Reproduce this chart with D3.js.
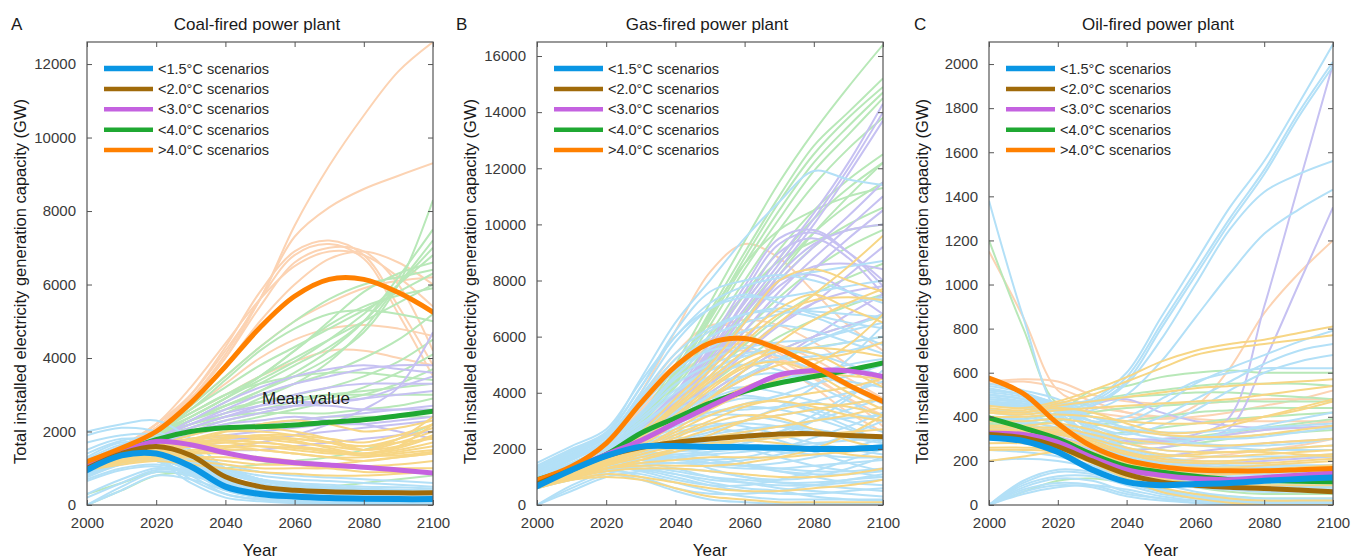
<!DOCTYPE html>
<html>
<head>
<meta charset="utf-8">
<script src="https://cdn.jsdelivr.net/npm/d3@7"></script>
<style>
  body { margin: 0; background: #fff; }
  svg { display: block; }
  text { font-family: Arial, "Liberation Sans", Helvetica, sans-serif; }
</style>
</head>
<body>
<svg id="chart" width="1364" height="559"></svg>
<script>
// ---- shared ----
const years = [2000, 2010, 2020, 2030, 2040, 2050, 2060, 2070, 2080, 2090, 2100];
const xTicks = [2000, 2020, 2040, 2060, 2080, 2100];
const groupLabels = ["<1.5\u00B0C scenarios", "<2.0\u00B0C scenarios", "<3.0\u00B0C scenarios", "<4.0\u00B0C scenarios", ">4.0\u00B0C scenarios"];

// ---- Coal-fired: group means (order: <1.5, <2.0, <3.0, <4.0, >4.0) ----
const coalMeans = [
  [950, 1350, 1400, 1050, 500, 300, 230, 190, 170, 160, 160],
  [1000, 1400, 1590, 1350, 770, 500, 400, 360, 340, 330, 330],
  [1050, 1450, 1730, 1640, 1420, 1250, 1150, 1090, 1030, 950, 870],
  [1050, 1450, 1780, 2000, 2100, 2130, 2180, 2250, 2320, 2430, 2550],
  [1180, 1550, 2000, 2780, 3770, 4830, 5680, 6140, 6140, 5780, 5250]
];
// Coal-fired: individual scenario runs
const coalRuns15 = [
  [1900, 2100, 2000, 1500, 900, 600, 400, 300, 250, 200, 200],
  [2000, 2200, 2300, 1800, 1000, 700, 500, 400, 350, 300, 300],
  [1700, 1900, 1900, 1400, 800, 500, 300, 200, 150, 120, 100],
  [1500, 1800, 1700, 1200, 700, 400, 250, 150, 100, 80, 60],
  [1200, 1600, 1800, 1500, 1000, 700, 550, 450, 400, 380, 350],
  [1100, 1500, 1600, 1300, 900, 600, 450, 350, 300, 250, 200],
  [1000, 1400, 1500, 1200, 700, 400, 300, 250, 200, 200, 200],
  [950, 1350, 1400, 1100, 600, 300, 200, 150, 100, 100, 100],
  [900, 1300, 1450, 1000, 500, 250, 150, 100, 80, 60, 50],
  [900, 1300, 1300, 900, 400, 200, 100, 50, 30, 20, 20],
  [850, 1250, 1350, 1200, 800, 500, 350, 300, 250, 250, 250],
  [800, 1200, 1300, 1000, 600, 350, 200, 150, 120, 100, 100],
  [800, 1100, 1200, 800, 300, 150, 80, 50, 40, 30, 30],
  [700, 1000, 1100, 900, 500, 300, 200, 150, 100, 100, 100],
  [0, 500, 900, 800, 500, 300, 200, 100, 80, 60, 50],
  [0, 400, 800, 700, 400, 200, 100, 50, 30, 20, 20],
  [300, 700, 1000, 900, 600, 400, 300, 250, 200, 180, 150],
  [1000, 1400, 1600, 1400, 1000, 800, 700, 650, 600, 550, 500],
  [1100, 1450, 1500, 1300, 1100, 900, 800, 750, 700, 650, 600],
  [950, 1300, 1400, 1300, 1000, 700, 500, 400, 350, 350, 350],
  [1050, 1400, 1300, 700, 300, 150, 100, 80, 60, 50, 50],
  [900, 1250, 1200, 600, 200, 100, 50, 30, 20, 10, 10],
  [1000, 1350, 1400, 1100, 700, 500, 400, 350, 300, 300, 300],
  [1300, 1700, 1600, 1000, 500, 300, 200, 150, 100, 100, 100],
  [1050, 1400, 1500, 1250, 850, 650, 550, 500, 450, 420, 400],
  [850, 1200, 1250, 950, 550, 350, 250, 200, 150, 150, 150],
  [1150, 1500, 1650, 1350, 950, 700, 600, 550, 500, 480, 450],
  [1000, 1380, 1450, 1150, 750, 500, 350, 300, 280, 260, 250],
  [900, 1280, 1350, 1050, 650, 400, 280, 220, 180, 160, 150],
  [800, 1150, 1250, 950, 500, 250, 120, 80, 60, 50, 40],
  [750, 1100, 1200, 1000, 650, 420, 300, 250, 220, 200, 200],
  [1250, 1650, 1750, 1350, 800, 500, 350, 300, 260, 240, 220],
  [650, 950, 1050, 850, 500, 280, 180, 120, 100, 90, 80],
  [1400, 1750, 1800, 1200, 650, 380, 250, 180, 150, 130, 120],
  [200, 600, 950, 900, 700, 500, 400, 350, 300, 280, 250],
  [1050, 1400, 1450, 1200, 900, 650, 500, 450, 420, 400, 380],
  [950, 1300, 1350, 900, 450, 250, 150, 100, 80, 70, 60],
  [1150, 1500, 1550, 1100, 600, 350, 250, 200, 180, 170, 160]
];
const coalRuns20 = [
  [1100, 1300, 1500, 1700, 1800, 1900, 1800, 1700, 1600, 1800, 2100],
  [1100, 1300, 1600, 1900, 2100, 2100, 2000, 1800, 1500, 1700, 2000],
  [1050, 1250, 1400, 1500, 1600, 1700, 1600, 1500, 1400, 1500, 1700],
  [1000, 1200, 1300, 1400, 1500, 1500, 1400, 1300, 1300, 1400, 1500],
  [1100, 1350, 1600, 1800, 1900, 1800, 1700, 1600, 1500, 1600, 1900],
  [1000, 1200, 1400, 1600, 1700, 1600, 1500, 1400, 1400, 1600, 2200],
  [1100, 1300, 1500, 1600, 1600, 1500, 1400, 1300, 1200, 1300, 1400],
  [1050, 1250, 1400, 1300, 1200, 1100, 1100, 1100, 1200, 1300, 1400],
  [1000, 1200, 1300, 1200, 1100, 1000, 1000, 1000, 1050, 1100, 1200],
  [1100, 1300, 1500, 1700, 2000, 2200, 2300, 2200, 2000, 2100, 2300],
  [1150, 1350, 1600, 1800, 2000, 2000, 1900, 1700, 1500, 1800, 2400],
  [1000, 1150, 1250, 1300, 1300, 1200, 1100, 1000, 900, 900, 900],
  [1050, 1200, 1350, 1400, 1400, 1300, 1200, 1100, 1000, 1000, 1000],
  [1100, 1300, 1500, 1600, 1700, 1800, 1800, 1700, 1600, 1700, 1800],
  [950, 1100, 1200, 1100, 1000, 900, 850, 800, 800, 850, 900],
  [1000, 1250, 1450, 1600, 1800, 1900, 1900, 1800, 1700, 1900, 2200],
  [1050, 1250, 1450, 1650, 1750, 1700, 1600, 1450, 1350, 1450, 1600],
  [1050, 1300, 1550, 1750, 1850, 1850, 1750, 1550, 1400, 1550, 1850],
  [1000, 1200, 1350, 1450, 1550, 1600, 1550, 1450, 1350, 1350, 1450]
];
const coalRuns30 = [
  [1100, 1400, 1800, 2200, 2600, 3000, 3300, 3500, 3700, 3800, 3800],
  [1100, 1400, 1800, 2300, 2800, 3200, 3500, 3700, 3800, 3700, 3600],
  [1050, 1350, 1700, 2000, 2300, 2500, 2700, 2800, 2900, 3000, 3100],
  [1100, 1400, 1700, 1900, 2100, 2200, 2300, 2400, 2500, 2600, 2700],
  [1050, 1350, 1650, 1800, 1900, 2000, 2100, 2200, 2200, 2300, 2400],
  [1100, 1450, 1800, 2100, 2400, 2600, 2700, 2700, 2600, 2600, 2600],
  [1050, 1400, 1700, 1700, 1600, 1700, 1900, 2200, 2600, 3200, 4700],
  [1100, 1400, 1750, 2000, 2200, 2300, 2400, 2300, 2200, 2000, 1800],
  [1050, 1350, 1600, 1700, 1800, 1800, 1900, 2000, 2100, 2200, 2300],
  [1100, 1450, 1800, 2200, 2500, 2700, 2800, 2800, 2900, 3200, 3500],
  [1000, 1300, 1600, 1600, 1500, 1500, 1600, 1700, 1800, 1900, 2000],
  [1100, 1400, 1750, 2100, 2400, 2700, 3000, 3200, 3300, 3300, 3300]
];
const coalRuns40 = [
  [1100, 1500, 1900, 2300, 2700, 3100, 3500, 4000, 4700, 6000, 8300],
  [1100, 1500, 1900, 2300, 2700, 3100, 3600, 4200, 5000, 6200, 7500],
  [1100, 1500, 1900, 2200, 2500, 2900, 3300, 3900, 4800, 6000, 7200],
  [1100, 1500, 1900, 2300, 2800, 3300, 3800, 4300, 5000, 6000, 7000],
  [1100, 1500, 1950, 2400, 2900, 3400, 3900, 4500, 5200, 6000, 6800],
  [1100, 1500, 2000, 2600, 3200, 3800, 4300, 4800, 5300, 5800, 6300],
  [1100, 1500, 2000, 2500, 3000, 3500, 4000, 4500, 5000, 5500, 6000],
  [1100, 1500, 1900, 2400, 2900, 3500, 4200, 4900, 5400, 5700, 5900],
  [1100, 1500, 1900, 2300, 2700, 3000, 3300, 3600, 4000, 4500, 5200],
  [1100, 1500, 1900, 2200, 2500, 2800, 3000, 3200, 3500, 3900, 4500],
  [1100, 1500, 1850, 2100, 2300, 2500, 2700, 2900, 3200, 3600, 4100],
  [1100, 1450, 1800, 2000, 2200, 2400, 2600, 2800, 3000, 3300, 3700],
  [1100, 1450, 1800, 2100, 2400, 2600, 2800, 3000, 3100, 3200, 3300],
  [1100, 1500, 1900, 2300, 2600, 2800, 2900, 3000, 3000, 3000, 3000],
  [1100, 1500, 2000, 2500, 3000, 3300, 3500, 3600, 3600, 3500, 3400],
  [1100, 1500, 1900, 2200, 2400, 2500, 2500, 2500, 2600, 2700, 2900],
  [1100, 1500, 2000, 2600, 3400, 4200, 4800, 5200, 5300, 5200, 5000],
  [1100, 1500, 2000, 2700, 3500, 4300, 5000, 5600, 6000, 6200, 6400],
  [1100, 1450, 1800, 2000, 2100, 2200, 2300, 2400, 2400, 2400, 2400],
  [0, 400, 800, 900, 1000, 1100, 1200, 1300, 1500, 1800, 2200],
  [300, 600, 900, 800, 600, 500, 500, 500, 600, 700, 800],
  [1100, 1500, 2000, 2400, 2900, 3500, 4200, 5000, 5800, 6300, 6600]
];
const coalRuns45 = [
  [1200, 1600, 2200, 3000, 4200, 5600, 7600, 9230, 10600, 11800, 12600],
  [1200, 1600, 2200, 2900, 4000, 5600, 7300, 8100, 8600, 8960, 9300],
  [1200, 1600, 2100, 3000, 4300, 5800, 6900, 7200, 6800, 5400, 3800],
  [1200, 1600, 2100, 2900, 4100, 5600, 6800, 7100, 6700, 5200, 3500],
  [1200, 1600, 2100, 2900, 4000, 5400, 6600, 7000, 6900, 6000, 4200],
  [1200, 1600, 2100, 2800, 3800, 5000, 6000, 6700, 6900, 6600, 6000],
  [1200, 1600, 2000, 2700, 3500, 4300, 5000, 5500, 5900, 6100, 6200],
  [1200, 1600, 2000, 2600, 3300, 4000, 4500, 4800, 4900, 4800, 4600],
  [1200, 1600, 2000, 2500, 3000, 3500, 3900, 4200, 4200, 4000, 3800],
  [1200, 1600, 2200, 3200, 4400, 5600, 6500, 6900, 6800, 6200, 5400]
];

// ---- Gas-fired ----
const gasMeans = [
  [670, 1250, 1750, 2080, 2100, 2070, 2060, 2040, 2000, 2000, 2060],
  [750, 1250, 1750, 2050, 2230, 2350, 2450, 2530, 2540, 2480, 2430],
  [850, 1300, 1800, 2300, 2920, 3520, 4100, 4640, 4790, 4780, 4580],
  [900, 1300, 1800, 2560, 3100, 3630, 4050, 4350, 4580, 4800, 5060],
  [890, 1370, 2200, 3630, 4940, 5770, 5930, 5550, 4950, 4280, 3690]
];
const gasRuns15 = [
  [1400, 2000, 2600, 4500, 6500, 8000, 9500, 10800, 11900, 11600, 11400],
  [1300, 1900, 2500, 4200, 6200, 7600, 8000, 8200, 8000, 7600, 7200],
  [1200, 1800, 2400, 4000, 5800, 7000, 7500, 7200, 6800, 6500, 6300],
  [1100, 1700, 2300, 3600, 5000, 6000, 6500, 6800, 7000, 7200, 7400],
  [1000, 1600, 2200, 3200, 4500, 5200, 5600, 5800, 5900, 6200, 6500],
  [1000, 1500, 2000, 2800, 3800, 4600, 5000, 5200, 5300, 5500, 5800],
  [900, 1400, 1900, 2600, 3300, 3800, 4200, 4500, 4700, 5000, 5200],
  [900, 1400, 1800, 2300, 2800, 3200, 3600, 3900, 4300, 4600, 5000],
  [800, 1300, 1700, 2100, 2500, 2800, 3000, 3200, 3400, 3600, 3800],
  [800, 1200, 1600, 1900, 2200, 2400, 2600, 2800, 3000, 3100, 3200],
  [700, 1200, 1500, 1700, 1800, 1900, 2000, 2100, 2200, 2300, 2400],
  [700, 1100, 1400, 1500, 1500, 1400, 1300, 1300, 1400, 1500, 1600],
  [700, 1100, 1300, 1300, 1100, 900, 800, 700, 700, 800, 900],
  [600, 1000, 1200, 1100, 800, 500, 300, 200, 200, 200, 200],
  [600, 900, 1100, 900, 500, 200, 100, 50, 50, 50, 50],
  [0, 700, 1200, 1500, 1700, 1800, 1900, 2000, 2000, 2000, 2000],
  [0, 500, 1000, 1200, 1300, 1200, 1000, 800, 700, 600, 500],
  [800, 1300, 1800, 2400, 3000, 3500, 3800, 3700, 3400, 3000, 2600],
  [900, 1400, 2000, 2700, 3500, 4000, 4200, 4000, 3700, 3300, 3000],
  [1000, 1500, 2100, 3000, 4000, 4800, 5300, 5500, 5400, 5000, 4600],
  [1100, 1600, 2200, 3300, 4600, 5600, 6200, 6400, 6200, 5800, 5400],
  [800, 1300, 1700, 2000, 2300, 2600, 3000, 3500, 4200, 5200, 6400],
  [700, 1200, 1600, 1800, 1900, 2000, 2200, 2500, 3000, 3800, 4800],
  [900, 1400, 1800, 2200, 2600, 2800, 2900, 2800, 2600, 2400, 2200],
  [1000, 1500, 2000, 2500, 3000, 3200, 3200, 3000, 2700, 2500, 2400],
  [700, 1100, 1500, 1600, 1600, 1500, 1600, 1800, 2100, 2500, 3000],
  [800, 1300, 1800, 2200, 2400, 2300, 2100, 1900, 1800, 1700, 1700],
  [900, 1400, 1900, 2500, 3200, 3900, 4600, 5200, 5800, 6300, 6800],
  [1500, 2100, 2700, 4400, 6000, 7200, 7800, 8100, 8300, 8500, 8700],
  [1200, 1800, 2400, 3800, 5200, 6200, 6800, 7000, 6900, 6800, 6700],
  [700, 1100, 1400, 1200, 900, 700, 700, 900, 1200, 1600, 2000],
  [600, 1000, 1300, 1000, 600, 400, 400, 500, 700, 900, 1100],
  [850, 1300, 1700, 1900, 1700, 1300, 1000, 900, 1000, 1300, 1700],
  [750, 1200, 1600, 1800, 1800, 1600, 1400, 1200, 1100, 1100, 1200],
  [950, 1450, 1950, 2600, 3100, 3300, 3400, 3500, 3700, 4000, 4400],
  [750, 1150, 1500, 1500, 1300, 1000, 800, 600, 500, 400, 300],
  [650, 1050, 1400, 1400, 1200, 1000, 900, 800, 800, 900, 1000],
  [800, 1250, 1650, 1900, 2000, 1800, 1500, 1200, 1000, 800, 700],
  [900, 1350, 1750, 2000, 2100, 2100, 2300, 2600, 3000, 3400, 3800],
  [850, 1300, 1700, 1800, 1700, 1500, 1400, 1500, 1700, 2000, 2400],
  [700, 1150, 1550, 1700, 1700, 1600, 1700, 2000, 2400, 2800, 3300],
  [750, 1200, 1600, 1900, 2200, 2500, 2700, 2800, 2700, 2500, 2300],
  [950, 1400, 1900, 2400, 2900, 3300, 3500, 3400, 3100, 2700, 2300],
  [1000, 1500, 2000, 2700, 3400, 3800, 3900, 3700, 3300, 2800, 2200],
  [1100, 1650, 2200, 3100, 4100, 4800, 5000, 4800, 4300, 3700, 3100],
  [1200, 1750, 2300, 3500, 4800, 5500, 5600, 5300, 4800, 4200, 3600],
  [1250, 1850, 2450, 3900, 5400, 6300, 6800, 6900, 6700, 6200, 5700],
  [1350, 1950, 2550, 4200, 6000, 7000, 7400, 7400, 7600, 7800, 8000],
  [600, 950, 1250, 1250, 1000, 700, 500, 400, 400, 500, 600],
  [650, 1000, 1300, 1300, 1100, 800, 600, 500, 300, 200, 150],
  [800, 1250, 1650, 2000, 2200, 2200, 2000, 1700, 1400, 1200, 1000],
  [900, 1350, 1800, 2300, 2700, 2900, 2800, 2500, 2200, 2000, 1800],
  [700, 1100, 1450, 1600, 1700, 1900, 2200, 2600, 3200, 3900, 4600],
  [1000, 1500, 2050, 2900, 3700, 4300, 4600, 4700, 4600, 4400, 4200],
  [1150, 1700, 2250, 3200, 4300, 5000, 5400, 5500, 5600, 5800, 6000],
  [0, 600, 1100, 1400, 1500, 1500, 1400, 1300, 1200, 1200, 1300],
  [850, 1300, 1700, 2100, 2500, 2700, 2600, 2300, 1900, 1500, 1200]
];
const gasRuns20 = [
  [800, 1200, 1700, 2500, 3500, 4500, 5500, 6500, 7500, 8500, 9600],
  [800, 1200, 1700, 2600, 3800, 5000, 6500, 8000, 8400, 8000, 7600],
  [800, 1200, 1700, 2500, 3600, 4800, 6000, 7000, 7500, 7000, 6500],
  [750, 1150, 1600, 2300, 3200, 4200, 5000, 5500, 5600, 5500, 5300],
  [750, 1150, 1600, 2200, 3000, 3800, 4500, 5000, 5200, 5400, 5800],
  [700, 1100, 1500, 2000, 2700, 3400, 4000, 4500, 5000, 5700, 6800],
  [700, 1100, 1500, 1900, 2500, 3000, 3500, 3800, 4000, 4200, 4500],
  [700, 1100, 1500, 1900, 2300, 2700, 3000, 3200, 3400, 3600, 3800],
  [700, 1050, 1400, 1800, 2100, 2400, 2600, 2800, 3000, 3200, 3500],
  [650, 1000, 1300, 1600, 1900, 2100, 2300, 2400, 2500, 2600, 2700],
  [650, 1000, 1300, 1500, 1600, 1700, 1700, 1700, 1800, 1900, 2000],
  [650, 950, 1200, 1300, 1300, 1200, 1100, 1000, 1000, 1100, 1300],
  [600, 900, 1100, 1000, 800, 600, 500, 500, 600, 700, 900],
  [600, 900, 1000, 900, 600, 300, 200, 100, 100, 100, 100],
  [700, 1100, 1500, 2100, 2900, 3800, 4800, 5800, 6600, 7200, 7700],
  [750, 1150, 1600, 2400, 3400, 4400, 5200, 5600, 5400, 4800, 4200],
  [700, 1100, 1500, 2000, 2600, 3200, 3600, 3700, 3500, 3200, 3000],
  [800, 1200, 1600, 2200, 2900, 3600, 4200, 4600, 4700, 4600, 4500],
  [700, 1000, 1300, 1400, 1400, 1400, 1500, 1700, 2000, 2500, 3200],
  [650, 1000, 1300, 1600, 2000, 2500, 3000, 3400, 3600, 3500, 3200],
  [700, 1050, 1400, 1700, 2000, 2200, 2300, 2200, 2000, 1800, 1700],
  [800, 1250, 1700, 2500, 3500, 4600, 5800, 6800, 7300, 7400, 7300],
  [750, 1150, 1550, 2200, 3100, 4100, 4900, 5100, 4700, 4000, 3400],
  [700, 1100, 1450, 1900, 2400, 2900, 3200, 3100, 2700, 2300, 2000]
];
const gasRuns30 = [
  [850, 1300, 1900, 2800, 4000, 5500, 7200, 8800, 10400, 12200, 14300],
  [850, 1300, 1900, 2800, 4000, 5400, 7000, 8600, 10200, 12000, 14000],
  [850, 1300, 1900, 2700, 3800, 5200, 6800, 8400, 10000, 11800, 13700],
  [850, 1300, 1900, 2700, 3700, 5000, 6500, 8000, 9200, 10300, 11500],
  [850, 1300, 1850, 2600, 3600, 4800, 6200, 7600, 8800, 9900, 11000],
  [850, 1300, 1850, 2600, 3500, 4600, 5900, 7200, 8400, 9500, 10500],
  [850, 1300, 1850, 2600, 3500, 4800, 6500, 8200, 9300, 9800, 10000],
  [850, 1300, 1850, 2700, 4000, 5800, 7800, 9500, 9800, 9000, 7800],
  [850, 1300, 1850, 2700, 3900, 5600, 7600, 9300, 9700, 9000, 8000],
  [850, 1300, 1850, 2600, 3800, 5400, 7300, 9000, 9500, 8800, 7500],
  [850, 1300, 1850, 2600, 3700, 5000, 6500, 7800, 8500, 8600, 8400],
  [850, 1300, 1800, 2500, 3400, 4400, 5500, 6500, 7200, 7600, 7800],
  [850, 1300, 1800, 2400, 3200, 4000, 4800, 5500, 6000, 6400, 6800],
  [850, 1300, 1800, 2400, 3100, 3800, 4500, 5200, 6000, 6800, 7500],
  [850, 1300, 1850, 2600, 3600, 5000, 6800, 8000, 8200, 7600, 6800],
  [850, 1300, 1800, 2500, 3300, 4300, 5400, 6400, 7200, 8200, 9200]
];
const gasRuns40 = [
  [900, 1350, 2000, 3200, 5000, 7200, 9400, 11500, 13300, 14900, 16400],
  [900, 1350, 2000, 3100, 4800, 6900, 9000, 11000, 12800, 14000, 15200],
  [900, 1350, 2000, 3100, 4700, 6700, 8800, 10800, 12500, 13800, 14900],
  [900, 1350, 2000, 3000, 4600, 6600, 8600, 10500, 12200, 13500, 14700],
  [900, 1350, 1950, 3000, 4500, 6400, 8400, 10200, 11900, 13200, 14500],
  [900, 1350, 1950, 2900, 4300, 6100, 8000, 9800, 11400, 12700, 13800],
  [900, 1350, 1950, 2900, 4200, 5800, 7500, 9100, 10500, 11600, 12500],
  [900, 1350, 1950, 2800, 4000, 5500, 7200, 8800, 10200, 11300, 12200],
  [900, 1300, 1900, 2800, 3900, 5300, 6900, 8400, 9700, 10700, 11500],
  [900, 1300, 1900, 2700, 3800, 5100, 6600, 8000, 9200, 10000, 10600],
  [900, 1300, 1900, 2700, 3700, 4900, 6200, 7400, 8400, 9200, 9800],
  [900, 1300, 1900, 2600, 3500, 4600, 5700, 6700, 7500, 8100, 8600],
  [900, 1300, 1850, 2600, 3400, 4300, 5200, 6000, 6600, 7100, 7500],
  [900, 1300, 1850, 2500, 3200, 4000, 4800, 5500, 6000, 6400, 6700],
  [900, 1300, 1850, 2500, 3200, 3900, 4600, 5200, 5600, 5800, 6000],
  [900, 1350, 2000, 3100, 4800, 6800, 8600, 9800, 10500, 11000, 11300],
  [900, 1300, 1900, 2700, 3700, 5000, 6600, 8200, 9700, 11000, 12200],
  [900, 1350, 2000, 3000, 4400, 6000, 7500, 8700, 9400, 9800, 10000]
];
const gasRuns45 = [
  [900, 1400, 2300, 4000, 6200, 8300, 9300, 8800, 7600, 6400, 5500],
  [900, 1400, 2200, 3700, 5200, 6200, 6600, 6400, 5800, 5000, 4300],
  [900, 1400, 2200, 3600, 5000, 5900, 6000, 5400, 4600, 3800, 3200],
  [900, 1400, 2200, 3500, 4800, 5600, 5700, 5000, 4200, 3300, 2600],
  [900, 1350, 2100, 3400, 4600, 5300, 5500, 5200, 4800, 4300, 3800],
  [900, 1350, 2100, 3300, 4500, 5400, 5900, 5700, 5200, 4500, 3800],
  [900, 1400, 2200, 3800, 5400, 6400, 6200, 5200, 4500, 3800, 2800]
];

// ---- Oil-fired ----
const oilMeans = [
  [305, 290, 240, 160, 105, 90, 95, 100, 110, 118, 125],
  [320, 305, 265, 200, 140, 105, 90, 80, 75, 68, 60],
  [325, 320, 285, 215, 160, 135, 120, 115, 125, 135, 145],
  [395, 350, 300, 230, 175, 150, 130, 115, 110, 108, 105],
  [575, 505, 370, 265, 204, 174, 159, 155, 155, 160, 166]
];
const oilRuns15 = [
  [480, 470, 460, 480, 600, 850, 1100, 1350, 1560, 1820, 2090],
  [470, 460, 450, 470, 580, 820, 1060, 1300, 1520, 1780, 2010],
  [460, 450, 440, 460, 560, 800, 1040, 1280, 1500, 1760, 1990],
  [450, 440, 430, 450, 550, 750, 1000, 1250, 1420, 1500, 1560],
  [430, 420, 410, 430, 500, 650, 850, 1050, 1230, 1340, 1430],
  [1380, 850, 420, 330, 300, 280, 270, 260, 250, 250, 250],
  [550, 520, 480, 400, 380, 450, 550, 620, 680, 740, 790],
  [520, 500, 460, 380, 350, 400, 480, 560, 640, 700, 730],
  [500, 480, 440, 360, 320, 360, 430, 520, 600, 650, 680],
  [540, 510, 450, 350, 250, 200, 180, 170, 170, 170, 170],
  [520, 500, 440, 330, 230, 180, 150, 140, 140, 140, 140],
  [500, 480, 420, 310, 220, 170, 140, 120, 110, 110, 110],
  [480, 460, 400, 300, 210, 150, 120, 100, 90, 90, 90],
  [450, 440, 380, 280, 200, 140, 110, 90, 80, 80, 80],
  [430, 420, 360, 270, 190, 130, 100, 80, 70, 70, 70],
  [400, 390, 340, 260, 200, 160, 140, 130, 130, 130, 130],
  [380, 370, 330, 270, 220, 190, 170, 160, 160, 160, 160],
  [350, 340, 300, 240, 180, 140, 120, 110, 110, 110, 110],
  [320, 310, 280, 230, 170, 120, 90, 80, 80, 80, 80],
  [300, 290, 260, 220, 160, 100, 60, 40, 30, 30, 30],
  [250, 240, 220, 180, 120, 70, 40, 20, 10, 10, 10],
  [0, 80, 120, 110, 60, 30, 20, 10, 10, 10, 10],
  [0, 70, 100, 90, 50, 30, 10, 5, 5, 5, 5],
  [0, 60, 90, 80, 40, 20, 10, 5, 5, 5, 5],
  [0, 100, 150, 140, 100, 60, 40, 30, 20, 20, 20],
  [200, 210, 200, 170, 130, 100, 80, 70, 60, 60, 60],
  [450, 450, 420, 380, 330, 300, 280, 270, 270, 280, 300],
  [500, 480, 450, 400, 350, 320, 300, 300, 310, 330, 350],
  [470, 450, 420, 360, 300, 280, 300, 330, 360, 390, 420],
  [520, 500, 450, 380, 400, 480, 560, 600, 620, 620, 620],
  [510, 490, 440, 350, 280, 250, 240, 240, 250, 260, 270],
  [490, 470, 430, 340, 260, 220, 200, 200, 210, 220, 230],
  [0, 90, 130, 130, 90, 50, 30, 20, 15, 15, 15],
  [400, 380, 350, 300, 250, 210, 190, 180, 180, 180, 180],
  [350, 330, 300, 260, 210, 160, 130, 120, 120, 120, 120],
  [460, 440, 400, 320, 240, 190, 160, 150, 150, 150, 150],
  [300, 280, 250, 200, 150, 110, 90, 80, 80, 80, 80],
  [0, 50, 80, 90, 70, 40, 20, 10, 5, 5, 5],
  [0, 110, 160, 150, 110, 70, 40, 20, 10, 10, 10],
  [420, 400, 370, 310, 260, 230, 220, 220, 220, 220, 220],
  [530, 500, 460, 400, 350, 330, 330, 340, 350, 360, 370]
];
const oilRuns20 = [
  [450, 440, 470, 520, 580, 650, 700, 730, 750, 780, 810],
  [440, 430, 460, 500, 560, 620, 680, 710, 730, 750, 770],
  [430, 420, 450, 470, 490, 510, 530, 540, 550, 560, 570],
  [420, 410, 430, 440, 450, 460, 470, 480, 500, 520, 540],
  [400, 400, 410, 400, 380, 370, 370, 380, 400, 430, 470],
  [380, 380, 390, 370, 340, 320, 310, 310, 320, 340, 360],
  [360, 360, 370, 340, 300, 280, 270, 270, 280, 290, 300],
  [350, 350, 350, 320, 280, 250, 240, 240, 250, 260, 270],
  [340, 340, 340, 300, 260, 230, 220, 220, 230, 240, 250],
  [330, 330, 330, 290, 240, 210, 200, 200, 210, 220, 230],
  [320, 320, 320, 280, 230, 200, 190, 190, 190, 200, 210],
  [310, 310, 300, 260, 210, 180, 170, 170, 180, 190, 200],
  [300, 300, 290, 240, 190, 160, 150, 150, 160, 170, 180],
  [280, 280, 270, 220, 160, 120, 100, 90, 90, 90, 90],
  [260, 260, 250, 200, 130, 80, 50, 30, 20, 20, 20],
  [250, 250, 240, 190, 120, 60, 30, 10, 0, 0, 0],
  [420, 420, 440, 420, 370, 330, 330, 360, 400, 440, 480],
  [200, 220, 240, 220, 180, 150, 140, 140, 150, 160, 170],
  [330, 330, 330, 280, 230, 220, 230, 240, 240, 230, 220]
];
const oilRuns30 = [
  [300, 320, 330, 320, 300, 300, 320, 400, 900, 1450, 2000],
  [300, 310, 320, 310, 290, 290, 300, 350, 650, 1000, 1350],
  [330, 330, 320, 450, 480, 420, 380, 360, 350, 350, 350],
  [320, 320, 300, 260, 230, 220, 240, 260, 280, 290, 300],
  [310, 310, 290, 250, 200, 180, 180, 190, 200, 210, 220],
  [340, 330, 310, 270, 250, 260, 290, 320, 340, 350, 360]
];
const oilRuns40 = [
  [1200, 800, 460, 470, 490, 500, 510, 510, 500, 490, 480],
  [400, 390, 420, 520, 540, 580, 600, 610, 600, 600, 600],
  [400, 380, 400, 470, 500, 520, 540, 550, 550, 550, 540],
  [390, 370, 380, 420, 440, 450, 460, 470, 470, 470, 470],
  [390, 360, 350, 360, 380, 400, 420, 430, 440, 440, 440],
  [380, 350, 330, 320, 330, 350, 370, 390, 400, 410, 420],
  [380, 350, 320, 290, 280, 290, 310, 330, 350, 370, 390],
  [370, 340, 300, 260, 250, 260, 280, 300, 320, 330, 340],
  [370, 340, 290, 240, 200, 180, 170, 170, 170, 170, 170],
  [360, 330, 280, 220, 160, 120, 100, 90, 80, 80, 80],
  [350, 320, 270, 210, 150, 110, 80, 60, 50, 50, 50],
  [0, 60, 110, 120, 100, 70, 50, 40, 30, 30, 30]
];
const oilRuns45 = [
  [550, 560, 530, 470, 420, 400, 450, 620, 870, 1050, 1200],
  [560, 570, 560, 500, 470, 460, 460, 470, 480, 480, 480],
  [1150, 850, 520, 450, 420, 400, 390, 380, 380, 380, 380],
  [450, 450, 440, 420, 400, 390, 400, 420, 450, 480, 520],
  [350, 350, 330, 300, 280, 280, 300, 320, 340, 360, 380],
  [300, 300, 280, 240, 210, 200, 210, 230, 250, 270, 300]
];

// ---- styling ----
const meanColors = ["#0a96e4", "#a06a0a", "#c462e0", "#1fa832", "#ff8000"];
const runColors  = ["#b3e0f7", "#f7d685", "#c6c1f2", "#b8e8b8", "#fcd3b3"];
const runDrawOrder = [4, 3, 2, 0, 1];     // >4.0, <4.0, <3.0, <1.5, <2.0
const meanDrawOrder = [3, 2, 4, 1, 0];    // green, purple, orange, brown, blue

const panels = [
  { letter: "A", title: "Coal-fired power plant", left: 87, right: 433, yMax: 12600, yStep: 2000, yTop: 12000,
    means: coalMeans, runs: [coalRuns15, coalRuns20, coalRuns30, coalRuns40, coalRuns45], letterX: 11, note: true },
  { letter: "B", title: "Gas-fired power plant", left: 537, right: 883, yMax: 16500, yStep: 2000, yTop: 16000,
    means: gasMeans, runs: [gasRuns15, gasRuns20, gasRuns30, gasRuns40, gasRuns45], letterX: 456, note: false },
  { letter: "C", title: "Oil-fired power plant", left: 989, right: 1333, yMax: 2100, yStep: 200, yTop: 2000,
    means: oilMeans, runs: [oilRuns15, oilRuns20, oilRuns30, oilRuns40, oilRuns45], letterX: 914, note: false }
];

const svg = d3.select("#chart");
const plotTop = 42, plotBottom = 505;

panels.forEach((p, pi) => {
  const x = d3.scaleLinear().domain([2000, 2100]).range([p.left, p.right]);
  const y = d3.scaleLinear().domain([0, p.yMax]).range([plotBottom, plotTop]);
  const g = svg.append("g");
  const clipId = "clip" + pi;
  svg.append("clipPath").attr("id", clipId).append("rect")
    .attr("x", p.left).attr("y", plotTop).attr("width", p.right - p.left).attr("height", plotBottom - plotTop);

  const line = d3.line()
    .x((d, i) => x(years[i]))
    .y(d => y(d))
    .curve(d3.curveCatmullRom.alpha(0.5));

  const plot = g.append("g").attr("clip-path", `url(#${clipId})`);

  // individual scenario runs
  runDrawOrder.forEach(k => {
    plot.append("g").selectAll("path").data(p.runs[k]).join("path")
      .attr("d", line)
      .attr("fill", "none")
      .attr("stroke", runColors[k])
      .attr("stroke-width", 2);
  });

  // group means
  meanDrawOrder.forEach(k => {
    plot.append("path")
      .attr("d", line(p.means[k]))
      .attr("fill", "none")
      .attr("stroke", meanColors[k])
      .attr("stroke-width", k === 0 ? 6 : 5)
      .attr("stroke-linejoin", "round")
      .attr("stroke-linecap", "round");
  });

  // axes with inward ticks on all four sides
  const yTicks = d3.range(0, p.yTop + 1, p.yStep);
  const axisColor = "#555";
  const ax = (sel) => {
    sel.select(".domain").remove();
    sel.selectAll(".tick line").attr("stroke", axisColor);
    sel.selectAll(".tick text").attr("fill", "#3a3a3a").style("font-size", "15px")
      .style("font-family", "Arial, 'Liberation Sans', sans-serif");
  };
  g.append("g").attr("transform", `translate(0,${plotBottom})`)
    .call(d3.axisBottom(x).tickValues(xTicks).tickFormat(d3.format("d")).tickSizeInner(-5).tickSizeOuter(0).tickPadding(12))
    .call(ax);
  g.append("g").attr("transform", `translate(0,${plotTop})`)
    .call(d3.axisTop(x).tickValues(xTicks).tickFormat("").tickSizeInner(-5).tickSizeOuter(0))
    .call(ax);
  g.append("g").attr("transform", `translate(${p.left},0)`)
    .call(d3.axisLeft(y).tickValues(yTicks).tickFormat(d3.format("d")).tickSizeInner(-5).tickSizeOuter(0).tickPadding(11))
    .call(ax);
  g.append("g").attr("transform", `translate(${p.right},0)`)
    .call(d3.axisRight(y).tickValues(yTicks).tickFormat("").tickSizeInner(-5).tickSizeOuter(0))
    .call(ax);
  g.append("rect")
    .attr("x", p.left).attr("y", plotTop)
    .attr("width", p.right - p.left).attr("height", plotBottom - plotTop)
    .attr("fill", "none").attr("stroke", axisColor).attr("stroke-width", 1.2);

  // titles and labels
  const cx = (p.left + p.right) / 2;
  g.append("text").attr("x", cx - 3).attr("y", 30).attr("text-anchor", "middle")
    .style("font-size", "17px").attr("fill", "#1a1a1a").text(p.title);
  g.append("text").attr("x", p.letterX).attr("y", 30)
    .style("font-size", "17px").attr("fill", "#1a1a1a").text(p.letter);
  g.append("text").attr("x", cx).attr("y", 556).attr("text-anchor", "middle")
    .style("font-size", "17px").attr("fill", "#1a1a1a").text("Year");
  g.append("text")
    .attr("transform", `translate(${p.left - 61},${(plotTop + plotBottom) / 2 + 8}) rotate(-90)`)
    .attr("text-anchor", "middle")
    .style("font-size", "16.5px").attr("fill", "#1a1a1a")
    .text("Total installed electricity generation capacity (GW)");

  // legend
  const lg = g.append("g");
  groupLabels.forEach((lab, k) => {
    const ly = 68.5 + k * 20.4;
    lg.append("line")
      .attr("x1", p.left + 17).attr("x2", p.left + 66)
      .attr("y1", ly).attr("y2", ly)
      .attr("stroke", meanColors[k]).attr("stroke-width", k === 0 ? 5.5 : 4.5);
    lg.append("text").attr("x", p.left + 71).attr("y", ly).attr("dy", "0.35em")
      .style("font-size", "14.5px").attr("fill", "#2a2a2a").text(lab);
  });

  if (p.note) {
    g.append("text").attr("x", 262).attr("y", 404)
      .style("font-size", "17px").attr("fill", "#1a1a1a").text("Mean value");
  }
});
</script>
</body>
</html>
